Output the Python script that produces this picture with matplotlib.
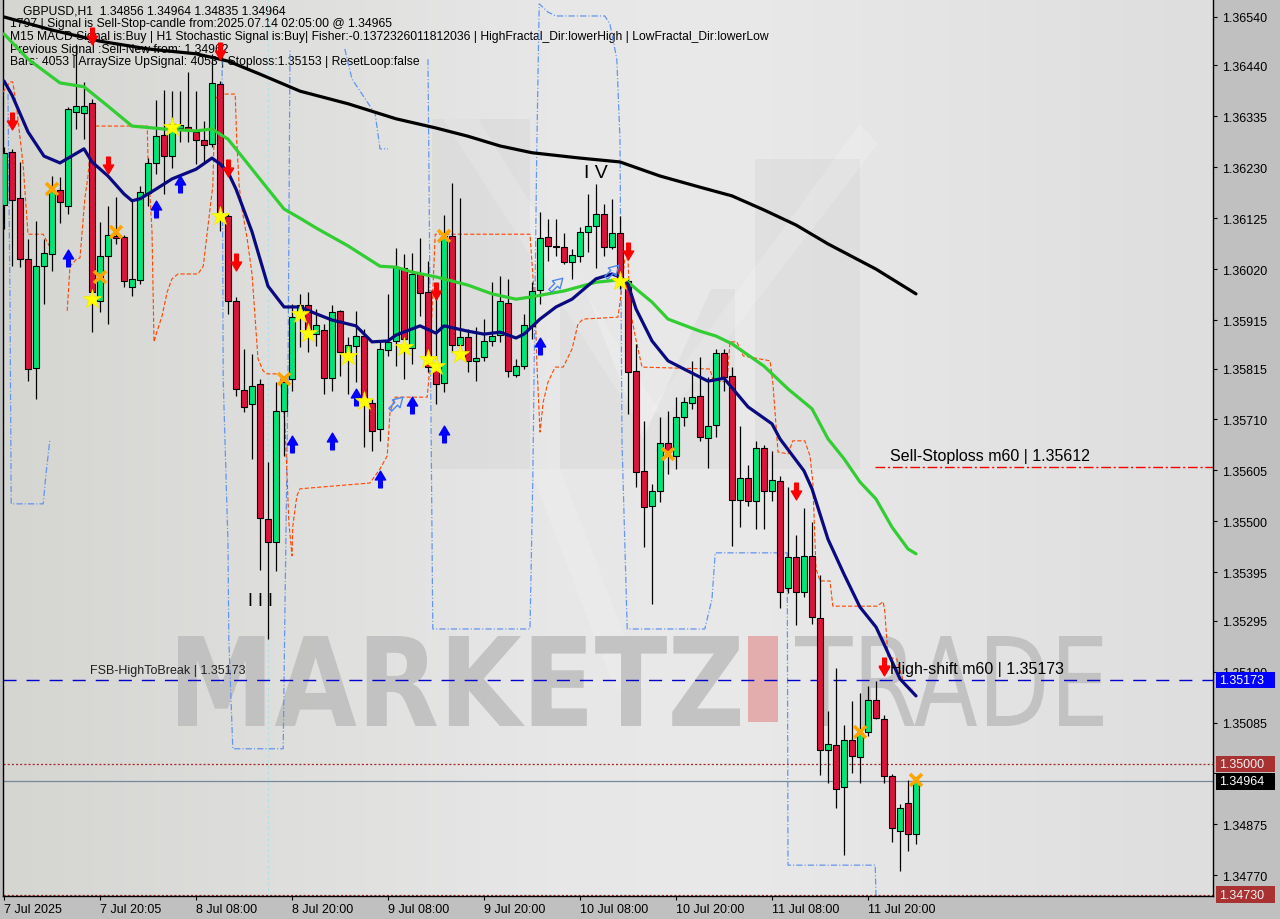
import numpy as np
import matplotlib.pyplot as plt
import matplotlib.transforms as mtransforms
from matplotlib.patches import Rectangle, PathPatch, Polygon
from matplotlib.path import Path
from matplotlib.textpath import TextPath
from matplotlib.font_manager import FontProperties

plt.rcParams['font.family'] = ['Liberation Sans', 'DejaVu Sans']
plt.rcParams['lines.scale_dashes'] = False

# GBPUSD H1 candles, oldest first
opens = [1.36152, 1.36262, 1.36167, 1.36041, 1.35816, 1.36026, 1.36051, 1.36183, 1.36150, 1.36344,
         1.36342, 1.36363, 1.35954, 1.36047, 1.36088, 1.36086, 1.35983, 1.35998, 1.36177, 1.36239,
         1.36297, 1.36253, 1.36311, 1.36313, 1.36303, 1.36286, 1.36278, 1.36402, 1.36130, 1.35954,
         1.35771, 1.35742, 1.35783, 1.35505, 1.35457, 1.35727, 1.35793, 1.35921, 1.35946, 1.35886,
         1.35894, 1.35795, 1.35934, 1.35849, 1.35862, 1.35882, 1.35744, 1.35690, 1.35853, 1.35872,
         1.36022, 1.35857, 1.36010, 1.35973, 1.35818, 1.35785, 1.36088, 1.35864, 1.35880, 1.35831,
         1.35839, 1.35872, 1.35884, 1.35950, 1.35802, 1.35820, 1.35903, 1.35977, 1.36086, 1.36068,
         1.36066, 1.36035, 1.36047, 1.36097, 1.36109, 1.36134, 1.36066, 1.36094, 1.35996, 1.35810,
         1.35604, 1.35532, 1.35563, 1.35662, 1.35635, 1.35715, 1.35744, 1.35758, 1.35672, 1.35699,
         1.35847, 1.35800, 1.35544, 1.35589, 1.35542, 1.35651, 1.35563, 1.35583, 1.35362, 1.35426,
         1.35354, 1.35428, 1.35301, 1.35028, 1.35039, 1.34952, 1.35049, 1.35014, 1.35066, 1.35131,
         1.35092, 1.34975, 1.34861, 1.34919, 1.34856]
highs = [1.36272, 1.36268, 1.36241, 1.36082, 1.36119, 1.36082, 1.36212, 1.36210, 1.36354, 1.36484,
         1.36406, 1.36371, 1.36117, 1.36150, 1.36169, 1.36090, 1.36161, 1.36191, 1.36249, 1.36369,
         1.36389, 1.36387, 1.36387, 1.36426, 1.36387, 1.36325, 1.36464, 1.36408, 1.36134, 1.35963,
         1.35855, 1.35845, 1.35793, 1.35622, 1.35787, 1.35798, 1.35948, 1.35969, 1.35973, 1.35938,
         1.35907, 1.35946, 1.35936, 1.35880, 1.35934, 1.35897, 1.35752, 1.35870, 1.35969, 1.36064,
         1.36051, 1.36053, 1.36084, 1.36037, 1.35989, 1.36132, 1.36198, 1.36167, 1.35897, 1.35901,
         1.35917, 1.35993, 1.36006, 1.36000, 1.35835, 1.35928, 1.35993, 1.36138, 1.36123, 1.36123,
         1.36094, 1.36061, 1.36107, 1.36175, 1.36196, 1.36154, 1.36165, 1.36130, 1.36000, 1.35866,
         1.35707, 1.35577, 1.35715, 1.35727, 1.35756, 1.35756, 1.35831, 1.35839, 1.35798, 1.35855,
         1.35855, 1.35818, 1.35697, 1.35616, 1.35666, 1.35657, 1.35645, 1.35593, 1.35571, 1.35472,
         1.35527, 1.35499, 1.35389, 1.35109, 1.35198, 1.35080, 1.35130, 1.35146, 1.35160, 1.35171,
         1.35101, 1.34979, 1.34917, 1.34967, 1.34964]
lows = [1.36103, 1.36026, 1.36024, 1.35789, 1.35752, 1.35948, 1.36016, 1.36115, 1.36134, 1.36309,
        1.36288, 1.35890, 1.35932, 1.35907, 1.36072, 1.35983, 1.35965, 1.35989, 1.36150, 1.36216,
        1.36175, 1.36228, 1.36282, 1.36282, 1.36237, 1.36241, 1.36272, 1.36099, 1.35928, 1.35758,
        1.35725, 1.35629, 1.35400, 1.35257, 1.35397, 1.35635, 1.35769, 1.35859, 1.35849, 1.35862,
        1.35762, 1.35769, 1.35800, 1.35762, 1.35787, 1.35653, 1.35645, 1.35666, 1.35841, 1.35820,
        1.35793, 1.35824, 1.35923, 1.35808, 1.35742, 1.35767, 1.35849, 1.35855, 1.35808, 1.35789,
        1.35831, 1.35862, 1.35870, 1.35798, 1.35798, 1.35814, 1.35876, 1.35948, 1.36037, 1.36047,
        1.36031, 1.36000, 1.36035, 1.36055, 1.36022, 1.36047, 1.36061, 1.35979, 1.35721, 1.35571,
        1.35447, 1.35330, 1.35540, 1.35598, 1.35608, 1.35697, 1.35732, 1.35666, 1.35610, 1.35674,
        1.35769, 1.35449, 1.35488, 1.35532, 1.35484, 1.35484, 1.35542, 1.35321, 1.35352, 1.35286,
        1.35344, 1.35288, 1.34977, 1.34960, 1.34909, 1.34812, 1.34981, 1.34960, 1.35057, 1.35092,
        1.34960, 1.34839, 1.34779, 1.34820, 1.34835]
closes = [1.36260, 1.36163, 1.36041, 1.35814, 1.36026, 1.36053, 1.36181, 1.36158, 1.36350, 1.36356,
          1.36356, 1.35973, 1.36047, 1.36090, 1.36084, 1.35996, 1.36000, 1.36179, 1.36239, 1.36294,
          1.36253, 1.36319, 1.36317, 1.36309, 1.36286, 1.36276, 1.36404, 1.36138, 1.35954, 1.35773,
          1.35736, 1.35779, 1.35507, 1.35457, 1.35727, 1.35787, 1.35921, 1.35946, 1.35890, 1.35905,
          1.35795, 1.35932, 1.35849, 1.35864, 1.35882, 1.35744, 1.35686, 1.35855, 1.35870, 1.36024,
          1.35876, 1.36010, 1.35971, 1.35818, 1.35783, 1.36088, 1.35864, 1.35880, 1.35831, 1.35837,
          1.35872, 1.35882, 1.35954, 1.35810, 1.35820, 1.35905, 1.35975, 1.36084, 1.36068, 1.36066,
          1.36035, 1.36049, 1.36097, 1.36109, 1.36134, 1.36066, 1.36094, 1.35996, 1.35808, 1.35602,
          1.35530, 1.35563, 1.35662, 1.35643, 1.35715, 1.35746, 1.35756, 1.35674, 1.35697, 1.35847,
          1.35798, 1.35544, 1.35589, 1.35542, 1.35651, 1.35563, 1.35585, 1.35354, 1.35426, 1.35354,
          1.35428, 1.35303, 1.35028, 1.35041, 1.34948, 1.35049, 1.35016, 1.35063, 1.35131, 1.35094,
          1.34975, 1.34868, 1.34909, 1.34855, 1.34964]

time_ticks = [0, 12, 24, 36, 48, 60, 72, 84, 96, 108]
time_labels = ['7 Jul 2025', '7 Jul 20:05', '8 Jul 08:00', '8 Jul 20:00', '9 Jul 08:00',
               '9 Jul 20:00', '10 Jul 08:00', '10 Jul 20:00', '11 Jul 08:00', '11 Jul 20:00']
price_ticks = [1.36540, 1.36440, 1.36335, 1.36230, 1.36125, 1.36020, 1.35915, 1.35815, 1.35710,
               1.35605, 1.35500, 1.35395, 1.35295, 1.35190, 1.35085, 1.34980, 1.34875, 1.34770]

# moving averages read at some bars
fast_bars = [0, 1, 3, 5, 7, 10, 11, 13, 15, 16, 17, 19, 21, 24, 26, 27, 28, 29, 31, 33, 35, 37, 39,
             41, 44, 46, 48, 49, 52, 54, 55, 58, 60, 62, 64, 65, 67, 69, 71, 74, 76, 77, 78, 79, 81,
             83, 85, 88, 90, 93, 96, 97, 100, 101, 103, 105, 107, 109, 110, 112, 114]
fast_ma = [1.36408, 1.36379, 1.36303, 1.36253, 1.36239, 1.36268, 1.36241, 1.36212, 1.36175, 1.36161,
           1.36165, 1.36185, 1.36206, 1.36226, 1.36249, 1.36237, 1.36220, 1.36185, 1.36097, 1.35985,
           1.35942, 1.35942, 1.35928, 1.35915, 1.35903, 1.35870, 1.35872, 1.35884, 1.35903, 1.35888,
           1.35903, 1.35892, 1.35886, 1.35890, 1.35878, 1.35886, 1.35917, 1.35942, 1.35958, 1.36000,
           1.36010, 1.36004, 1.35989, 1.35938, 1.35872, 1.35831, 1.35814, 1.35789, 1.35795, 1.35736,
           1.35701, 1.35670, 1.35604, 1.35567, 1.35463, 1.35391, 1.35323, 1.35282, 1.35247, 1.35175,
           1.35140]
mid_bars = [0, 3, 7, 10, 13, 16, 20, 24, 26, 28, 30, 33, 35, 37, 39, 43, 47, 49, 51, 54, 58, 61, 64,
            66, 70, 74, 77, 78, 81, 83, 87, 89, 91, 95, 98, 101, 103, 105, 107, 109, 111, 113, 114]
mid_ma = [1.36505, 1.36453, 1.36404, 1.36396, 1.36356, 1.36315, 1.36309, 1.36305, 1.36309, 1.36288,
          1.36247, 1.36185, 1.36144, 1.36125, 1.36105, 1.36068, 1.36026, 1.36024, 1.36014, 1.36004,
          1.35987, 1.35969, 1.35958, 1.35963, 1.35975, 1.35993, 1.35998, 1.35993, 1.35952, 1.35917,
          1.35892, 1.35882, 1.35866, 1.35820, 1.35773, 1.35732, 1.35670, 1.35629, 1.35581, 1.35546,
          1.35488, 1.35443, 1.35433]
slow_bars = [0, 6, 12, 18, 24, 28, 32, 37, 43, 49, 54, 58, 62, 66, 72, 77, 82, 87, 91, 95, 99, 103,
             109, 114]
slow_ma = [1.36540, 1.36513, 1.36490, 1.36474, 1.36464, 1.36449, 1.36422, 1.36387, 1.36361, 1.36330,
           1.36311, 1.36294, 1.36274, 1.36260, 1.36249, 1.36241, 1.36212, 1.36189, 1.36171, 1.36142,
           1.36111, 1.36072, 1.36020, 1.35969]

# trailing stop (orange dashed), two pieces
stop_a_bars = [-0.125, 0.75, 1.1, 1.6, 2.4, 3.0, 4.9, 6.0]
stop_a = [1.36385, 1.36406, 1.36406, 1.36350, 1.36233, 1.36092, 1.36092, 1.36057]
stop_b_bars = [7.9, 8.25, 9.1, 9.5, 10.1, 10.5, 11.0, 17.9, 18.0, 18.5, 18.75, 19.1, 19.75, 20.4,
               21.0, 21.75, 24.25, 24.9, 25.75, 26.1, 26.4, 27.0, 28.9, 29.1, 29.4, 29.75, 30.4,
               31.0, 31.75, 32.4, 32.9, 34.5, 35.1, 35.4, 35.6, 36.0, 36.1, 36.6, 37.0, 45.75, 47.0,
               47.9, 48.25, 48.9, 52.9, 53.1, 53.5, 53.9, 65.75, 66.4, 66.6, 67.0, 67.4, 68.0, 68.9,
               69.9, 71.0, 71.75, 72.4, 76.75, 77.1, 77.6, 78.0, 78.25, 78.9, 79.75, 88.25, 88.6,
               89.75, 90.4, 90.75, 91.6, 92.4, 95.75, 96.1, 96.75, 98.0, 98.6, 100.1, 100.75, 101.1,
               101.5, 102.0, 103.25, 103.6, 109.1, 109.9, 110.1, 110.5, 111.6, 112.6, 113.6]
stop_b = [1.35934, 1.36026, 1.36041, 1.36043, 1.36165, 1.36212, 1.36315, 1.36315, 1.36247, 1.36097,
          1.35870, 1.35890, 1.35923, 1.35973, 1.36000, 1.36010, 1.36010, 1.36026, 1.36144, 1.36191,
          1.36371, 1.36381, 1.36381, 1.36282, 1.36191, 1.36144, 1.36082, 1.36010, 1.35835, 1.35810,
          1.35804, 1.35804, 1.35705, 1.35587, 1.35499, 1.35429, 1.35490, 1.35552, 1.35567, 1.35579,
          1.35608, 1.35635, 1.35725, 1.35756, 1.35756, 1.35793, 1.35932, 1.36092, 1.36092, 1.35938,
          1.35829, 1.35684, 1.35746, 1.35787, 1.35818, 1.35818, 1.35855, 1.35907, 1.35917, 1.35921,
          1.35965, 1.36041, 1.36041, 1.35938, 1.35882, 1.35818, 1.35814, 1.35793, 1.35787, 1.35793,
          1.35870, 1.35870, 1.35841, 1.35831, 1.35787, 1.35643, 1.35639, 1.35666, 1.35666, 1.35635,
          1.35581, 1.35402, 1.35377, 1.35377, 1.35325, 1.35325, 1.35334, 1.35315, 1.35220, 1.35216,
          1.35160, 1.35154]

# fractal channel (blue dash-dot), four pieces
chan_1_bars = [0.5, 0.75, 0.9, 4.9, 5.25, 5.75]
chan_1 = [1.36381, 1.35958, 1.35536, 1.35536, 1.35598, 1.35670]
chan_2_bars = [27.25, 27.4, 28.0, 28.1, 28.6, 34.9, 35.1, 35.5, 35.75]
chan_2 = [1.36478, 1.35793, 1.35453, 1.35257, 1.35031, 1.35031, 1.35294, 1.35793, 1.36474]
chan_3_bars = [42.6, 43.5, 46.4, 47.0, 48.0]
chan_3 = [1.36474, 1.36412, 1.36340, 1.36268, 1.36268]
chan_4_bars = [53.0, 53.25, 53.6, 65.75, 66.1, 66.6, 66.9, 68.0, 69.0, 75.1, 75.75, 76.6, 77.0, 77.25,
               77.9, 87.6, 88.5, 88.9, 97.9, 98.0, 108.9, 109.0]
chan_4 = [1.36453, 1.35958, 1.35278, 1.35278, 1.35587, 1.36268, 1.36567, 1.36550, 1.36542, 1.36542,
          1.36525, 1.36453, 1.36288, 1.35664, 1.35278, 1.35278, 1.35340, 1.35435, 1.35435, 1.34791,
          1.34791, 1.34727]

# signal marks
sell_bars = [1, 11, 13, 27, 28, 29, 54, 78, 99, 110]
sell_prices = [1.36325, 1.36501, 1.36235, 1.36470, 1.36228, 1.36035, 1.35975, 1.36057, 1.35563, 1.35202]
buy_bars = [8, 19, 22, 36, 41, 44, 47, 51, 55, 67]
buy_prices = [1.36043, 1.36144, 1.36196, 1.35659, 1.35666, 1.35756, 1.35587, 1.35740, 1.35680, 1.35862]
hollow_bars = [49, 69, 76]
hollow_prices = [1.35744, 1.35989, 1.36016]
star_bars = [11, 21, 27, 37, 38, 43, 45, 50, 53, 54, 57, 77]
star_prices = [1.35958, 1.36313, 1.36130, 1.35928, 1.35888, 1.35841, 1.35748, 1.35859, 1.35835,
               1.35820, 1.35845, 1.35996]
cross_bars = [6, 12, 14, 35, 55, 83, 107, 114]
cross_prices = [1.36185, 1.36004, 1.36097, 1.35793, 1.36088, 1.35639, 1.35066, 1.34967]

sell_stoploss = 1.35612
high_shift = 1.35173
round_level = 1.35000
bid = 1.34964
low_level = 1.34730

header = ['GBPUSD,H1  1.34856 1.34964 1.34835 1.34964',
          '1797 | Signal is Sell-Stop-candle from:2025.07.14 02:05:00 @ 1.34965',
          'M15 MACD Signal is:Buy | H1 Stochastic Signal is:Buy| Fisher:-0.1372326011812036 | '
          'HighFractal_Dir:lowerHigh | LowFractal_Dir:lowerLow',
          'Previous Signal :Sell-New from: 1.34962',
          'Bars: 4053 | ArraySize UpSignal: 4053 | Stoploss:1.35153 | ResetLoop:false']


def fitted_text(ax, s, x0, x1, y0, y1, prop, color, alpha=1.0):
    tp = TextPath((0, 0), s, size=100, prop=prop)
    bb = tp.get_extents()
    tr = (mtransforms.Affine2D().translate(-bb.x0, -bb.y0)
          .scale((x1 - x0) / bb.width, -(y1 - y0) / bb.height).translate(x0, y1))
    ax.add_patch(PathPatch(tr.transform_path(tp), fc=color, ec='none', alpha=alpha, zorder=2))


def arrow_path(angle):
    v = np.array([(-0.22, -1), (0.22, -1), (0.22, -0.05), (0.62, -0.05), (0, 1),
                  (-0.62, -0.05), (-0.22, -0.05), (-0.22, -1)])
    a = np.deg2rad(angle)
    rot = np.array([[np.cos(a), -np.sin(a)], [np.sin(a), np.cos(a)]])
    v = v @ rot.T
    return Path(v, [Path.MOVETO] + [Path.LINETO] * 6 + [Path.CLOSEPOLY])


W, H = 1280, 920
fig = plt.figure(figsize=(12.8, 9.2), dpi=100)
fig.patch.set_facecolor('#c0c0c0')
rect = [3 / W, 23 / H, 1210 / W, 897 / H]

# background + watermark, in pixel units
bg = fig.add_axes(rect, zorder=0)
bg.set_xlim(0, 1210)
bg.set_ylim(897, 0)
bg.axis('off')
xs = np.linspace(0, 1, 200)
shade = np.interp(xs, [0, 0.45, 0.6, 1], [213, 231, 233, 222])
img = np.tile(shade[None, :, None], (2, 1, 3)) / 255.0
img[..., 2] *= np.interp(xs, [0, 0.4, 1], [0.985, 1.0, 1.0])[None, :]
bg.imshow(img, extent=(0, 1210, 897, 0), aspect='auto', zorder=0)

logo_dark = [[(429, 120), (527, 120), (527, 470), (429, 470)],
             [(752, 160), (857, 160), (857, 470), (752, 470)],
             [(557, 290), (582, 290), (640, 440), (708, 290), (732, 290), (732, 470), (557, 470)]]
for pts in logo_dark:
    bg.add_patch(Polygon(pts, closed=True, fc='#c4c4c4', ec='none', alpha=0.22, zorder=1))
logo_light = [[(440, 120), (475, 120), (655, 410), (640, 432)],
              [(857, 125), (875, 145), (662, 420), (648, 410)],
              [(527, 470), (557, 470), (642, 690), (612, 690)]]
for pts in logo_light:
    bg.add_patch(Polygon(pts, closed=True, fc='white', ec='none', alpha=0.16, zorder=1))

fitted_text(bg, 'MARKETZ', 175, 737, 637, 727, FontProperties(family='DejaVu Sans', weight='bold'),
            '#bdbdbd', 0.85)
bg.add_patch(Rectangle((745, 637), 30, 86, fc='#e3a7a7', ec='none', alpha=0.9, zorder=2))
fitted_text(bg, 'TRADE', 792, 1100, 637, 727, FontProperties(family='DejaVu Sans', weight='normal'),
            '#bdbdbd', 0.85)

for i, line in enumerate(header):
    x = 20 if i == 0 else 7
    fig.text((3 + x) / W, 1 - (12 + 12.5 * i) / H, line, fontsize=8.7, color='black',
             va='center', ha='left', zorder=0.5)

ax = fig.add_axes(rect, zorder=1)
ax.set_facecolor('none')
ax.set_xlim(-0.125, 151.125)
ax.set_ylim(1.347274, 1.36577)

bars = np.arange(len(opens))
o = np.array(opens)
c = np.array(closes)
up = c >= o

ax.axvline(33, color='#b0e0e6', lw=0.8, ls=(0, (2, 2)), zorder=1)

for xb, yv in [(chan_1_bars, chan_1), (chan_2_bars, chan_2), (chan_3_bars, chan_3), (chan_4_bars, chan_4)]:
    ax.plot(xb, yv, color='#6495ed', lw=0.9, ls=(0, (4.5, 1.5, 0.8, 1.5)), zorder=2)

ax.axhline(high_shift, color='#0000cd', lw=1, ls=(0, (9.4, 7.2)), zorder=2)
ax.axhline(round_level, color='#a52a2a', lw=0.9, ls=(0, (1.5, 1.5)), zorder=2)
ax.axhline(bid, color='#778899', lw=0.9, zorder=2)
ax.axhline(low_level, color='#a52a2a', lw=0.9, ls=(0, (1.5, 1.5)), zorder=2)
ax.hlines(sell_stoploss, 108.9, 151.125, color='#ff0000', lw=1, ls=(0, (7, 2, 1.5, 2)), zorder=2)

ax.plot(stop_a_bars, stop_a, color='#ff4500', lw=0.8, ls=(0, (3, 1.5)), zorder=3)
ax.plot(stop_b_bars, stop_b, color='#ff4500', lw=0.8, ls=(0, (3, 1.5)), zorder=3)

ax.vlines(bars, lows, highs, color='black', lw=0.9, zorder=4)
ax.bar(bars, np.maximum(np.abs(c - o), 0.00002), bottom=np.minimum(o, c), width=0.68,
       color=np.where(up, '#00e676', '#dc143c'), edgecolor='black', linewidth=0.8, zorder=5)

ax.plot(slow_bars, slow_ma, color='black', lw=2.3, zorder=6, solid_capstyle='round')
ax.plot(mid_bars, mid_ma, color='#32cd32', lw=2.3, zorder=6, solid_capstyle='round')
ax.plot(fast_bars, fast_ma, color='#0a0a80', lw=2.3, zorder=7, solid_capstyle='round')

ax.plot(sell_bars, sell_prices, ls='none', marker=arrow_path(180), ms=12, color='red', zorder=8)
ax.plot(buy_bars, buy_prices, ls='none', marker=arrow_path(0), ms=12, color='#0000ff', zorder=8)
ax.plot(hollow_bars, hollow_prices, ls='none', marker=arrow_path(-45), ms=11, mfc='none',
        mec='#4f86e8', mew=1, zorder=8)
ax.plot(star_bars, star_prices, ls='none', marker='*', ms=14, color='#ffff00', mec='#f2e600',
        mew=0.5, zorder=8)
ax.plot(cross_bars, cross_prices, ls='none', marker='x', ms=8, mew=2.6, color='#ffa500', zorder=8)

ax.text(74, 1.36220, 'I V', fontsize=14, ha='center', va='center', color='black', zorder=8)
ax.text(32, 1.35336, 'I I I', fontsize=13, ha='center', va='center', color='black', zorder=8)
ax.text(10.7, high_shift + 0.00008, 'FSB-HighToBreak | 1.35173', fontsize=9, color='#202020',
        ha='left', va='bottom', zorder=8)
ax.text(110.7, high_shift + 0.00008, 'High-shift m60 | 1.35173', fontsize=11.5, color='black',
        ha='left', va='bottom', zorder=8)
ax.plot([110], [high_shift + 0.00027], ls='none', marker=arrow_path(180), ms=12, color='red', zorder=8)
ax.text(110.7, sell_stoploss + 0.00008, 'Sell-Stoploss m60 | 1.35612', fontsize=11.5, color='black',
        ha='left', va='bottom', zorder=8)

# axes look
ax.set_xticks(time_ticks)
ax.set_xticklabels(time_labels)
for lab in ax.get_xticklabels():
    lab.set_horizontalalignment('left')
ax.tick_params(axis='x', direction='out', length=3, width=0.8, pad=2, labelsize=9)
ax.set_yticks(price_ticks)
# 1.34980 sits under the bid / round-number boxes, as on the terminal
ax.set_yticklabels(['' if p == 1.34980 else '%.5f' % p for p in price_ticks])
ax.yaxis.tick_right()
ax.tick_params(axis='y', direction='out', length=3, width=0.8, pad=3.5, labelsize=9)
ax.spines['top'].set_visible(False)
for s in ['left', 'right', 'bottom']:
    ax.spines[s].set_color('black')
    ax.spines[s].set_linewidth(1)

trans = mtransforms.blended_transform_factory(ax.transAxes, ax.transData)
boxes = [(high_shift, '#0000ff', 'white'), (round_level, '#a83232', '#f0f0f0'),
         (bid, 'black', 'white'), (low_level, '#a83232', '#f0f0f0')]
for y, fc, tc in boxes:
    ax.add_patch(Rectangle((1.0025, y - 0.00017), 59 / 1210, 0.00034, transform=trans, fc=fc,
                           ec='none', clip_on=False, zorder=9))
    ax.text(1.0025 + 3 / 1210, y, '%.5f' % y, transform=trans, color=tc, fontsize=9, va='center',
            ha='left', clip_on=False, zorder=10)

plt.savefig('out.png', dpi=100)
